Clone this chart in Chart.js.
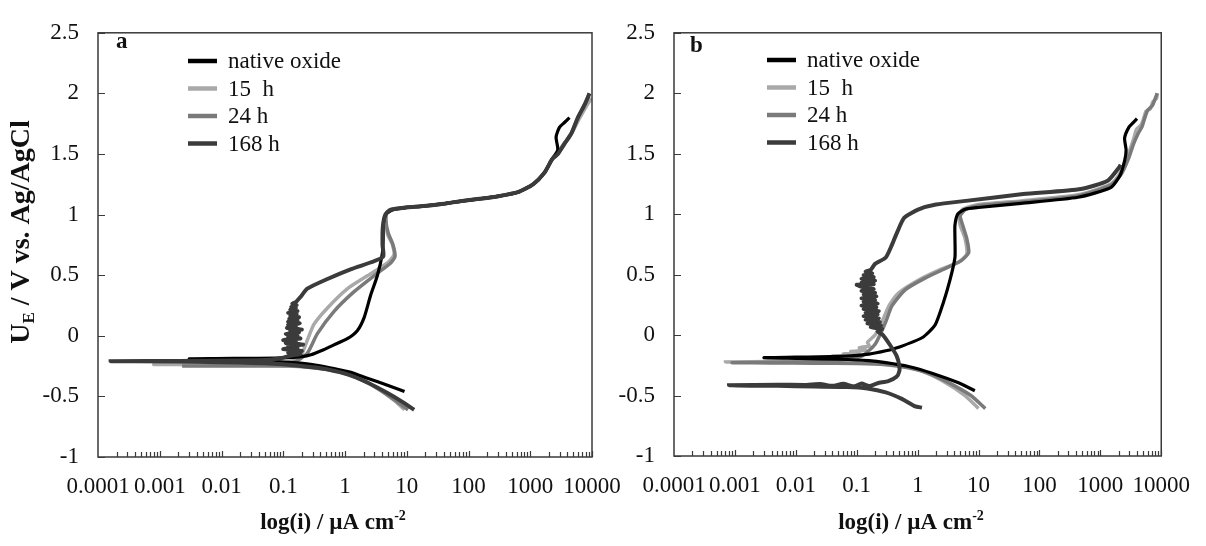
<!DOCTYPE html>
<html>
<head>
<meta charset="utf-8">
<script src="https://cdn.jsdelivr.net/npm/chart.js@4.4.1/dist/chart.umd.min.js"></script>
<style>
  body { margin: 0; background: #fff; }
  #wrap { position: relative; width: 1206px; height: 546px; }
  canvas { position: absolute; top: 0; }
  #chartA { left: 0; }
  #chartB { left: 560px; }
</style>
</head>
<body>
<div id="wrap">
  <canvas id="chartA" width="640" height="546"></canvas>
  <canvas id="chartB" width="646" height="546"></canvas>
</div>
<script>
// polarization curves, [current density µA/cm², potential V]
let seriesLabels = ["native oxide", "15  h", "24 h", "168 h"];

let xTickValues = [0.0001, 0.001, 0.01, 0.1, 1, 10, 100, 1000, 10000];
let xTickLabels = ["0.0001", "0.001", "0.01", "0.1", "1", "10", "100", "1000", "10000"];
let yTickValues = [-1, -0.5, 0, 0.5, 1, 1.5, 2, 2.5];
let yTickLabels = ["-1", "-0.5", "0", "0.5", "1", "1.5", "2", "2.5"];

// panel a
let aNative = [
  [9.2, -0.46], [5.0, -0.41], [2.3, -0.35], [1.2, -0.3], [0.66, -0.27], [0.35, -0.243],
  [0.19, -0.226], [0.08, -0.212], [0.02, -0.202], [0.006, -0.196], [0.003, -0.19], [0.008, -0.188],
  [0.03, -0.186], [0.1, -0.182], [0.2, -0.172], [0.28, -0.157], [0.45, -0.115], [0.65, -0.077],
  [1.09, -0.024], [1.58, 0.042], [2.04, 0.15], [2.6, 0.335], [3.34, 0.495], [4.03, 0.681],
  [4.15, 0.8], [4.17, 0.92], [4.57, 1.0], [5.9, 1.04], [10.3, 1.06], [17, 1.068], [40, 1.09],
  [73, 1.11], [150, 1.13], [305, 1.152], [630, 1.185], [1110, 1.25], [1700, 1.346], [2260, 1.457],
  [2790, 1.533], [2620, 1.64], [2970, 1.72], [3580, 1.76], [4320, 1.8]
];
let a15 = [
  [9.2, -0.61], [6.5, -0.54], [4.0, -0.46], [2.0, -0.37], [1.0, -0.305], [0.55, -0.275], [0.3, -0.258],
  [0.12, -0.245], [0.03, -0.24], [0.005, -0.238], [0.0008, -0.237], [0.004, -0.234], [0.02, -0.231],
  [0.07, -0.226], [0.13, -0.212], [0.19, -0.17], [0.245, -0.037], [0.315, 0.096], [0.52, 0.23],
  [1.1, 0.389], [2.3, 0.495], [4.87, 0.601], [6.2, 0.668], [5.9, 0.748], [4.87, 0.84], [4.57, 0.95],
  [4.75, 1.02], [6, 1.045], [10.3, 1.06], [17, 1.068], [40, 1.09], [73, 1.11], [150, 1.13],
  [305, 1.152], [630, 1.185], [1110, 1.25], [1700, 1.346], [2260, 1.457], [2900, 1.53], [3700, 1.6],
  [4800, 1.68], [6200, 1.79], [8000, 1.89], [9800, 1.96]
];
let a24 = [
  [10.5, -0.61], [7, -0.545], [4.2, -0.465], [2.1, -0.375], [1.0, -0.31], [0.55, -0.28], [0.3, -0.263],
  [0.12, -0.25], [0.03, -0.25], [0.008, -0.25], [0.0023, -0.25], [0.008, -0.247], [0.03, -0.243],
  [0.08, -0.236], [0.15, -0.218], [0.245, -0.144], [0.355, 0.016], [0.66, 0.2], [1.39, 0.362],
  [2.95, 0.495], [5.5, 0.601], [6.45, 0.655], [6.0, 0.75], [5.0, 0.85], [4.6, 0.95], [4.8, 1.02],
  [6.5, 1.045], [10.3, 1.06], [17, 1.068], [40, 1.09], [73, 1.11], [150, 1.13], [305, 1.152],
  [630, 1.185], [1110, 1.25], [1700, 1.346], [2260, 1.457], [2800, 1.5], [3540, 1.58], [4600, 1.667],
  [5900, 1.8], [7600, 1.907], [9100, 2.0]
];
let a168 = [
  [13.2, -0.61], [8.5, -0.545], [4.8, -0.47], [2.3, -0.385], [1.1, -0.318], [0.55, -0.28], [0.3, -0.26],
  [0.1, -0.235], [0.02, -0.22], [0.002, -0.212], [0.00016, -0.21], [0.002, -0.207], [0.02, -0.204],
  [0.06, -0.198], [0.09, -0.185], [0.13, -0.165],
  [0.19, -0.15], [0.12, -0.138], [0.2, -0.125], [0.1, -0.11], [0.17, -0.098], [0.12, -0.085],
  [0.21, -0.072], [0.11, -0.06], [0.16, -0.048], [0.1, -0.035], [0.19, -0.022], [0.12, -0.01],
  [0.17, 0.003], [0.11, 0.016], [0.18, 0.028], [0.13, 0.04], [0.2, 0.052], [0.115, 0.065],
  [0.16, 0.078], [0.12, 0.09], [0.185, 0.103], [0.12, 0.116], [0.17, 0.128], [0.125, 0.14],
  [0.18, 0.153], [0.13, 0.166], [0.165, 0.178], [0.12, 0.19], [0.17, 0.203], [0.13, 0.215],
  [0.16, 0.228], [0.135, 0.24], [0.165, 0.252], [0.14, 0.265], [0.16, 0.278], [0.19, 0.32],
  [0.245, 0.389], [0.52, 0.469], [1.23, 0.549], [2.95, 0.615], [4.17, 0.655], [4.05, 0.75],
  [4.1, 0.9], [4.5, 1.0], [5.5, 1.04], [10.3, 1.06], [17, 1.068], [40, 1.09], [73, 1.11], [150, 1.13],
  [305, 1.152], [630, 1.185], [1110, 1.25], [1700, 1.346], [2260, 1.457], [2800, 1.5], [3540, 1.58],
  [4600, 1.667], [5900, 1.8], [7600, 1.907], [9100, 2.0]
];

// panel b
let bNative = [
  [8.7, -0.46], [4.7, -0.395], [1.72, -0.315], [0.71, -0.26], [0.3, -0.228], [0.158, -0.212],
  [0.05, -0.2], [0.012, -0.193], [0.003, -0.187], [0.01, -0.183], [0.024, -0.18], [0.08, -0.172],
  [0.158, -0.158], [0.3, -0.13], [0.49, -0.1], [1.18, -0.022], [1.94, 0.084], [2.65, 0.27],
  [3.4, 0.456], [4.1, 0.642], [4.1, 0.8], [4.1, 0.908], [4.55, 1.0], [6, 1.04], [10, 1.055],
  [50, 1.09], [430, 1.14], [1480, 1.22], [2100, 1.32], [2500, 1.44], [2650, 1.53], [2500, 1.63],
  [2950, 1.72], [3500, 1.76], [4000, 1.79]
];
let b15 = [
  [10, -0.608], [6, -0.5], [2.5, -0.375], [1.2, -0.3], [0.6, -0.26], [0.3, -0.24], [0.1, -0.23],
  [0.02, -0.226], [0.004, -0.224], [0.0007, -0.222], [0.004, -0.218], [0.015, -0.21], [0.03, -0.2],
  [0.025, -0.19], [0.05, -0.185], [0.04, -0.172], [0.08, -0.168], [0.06, -0.155], [0.11, -0.15],
  [0.08, -0.135], [0.14, -0.125], [0.11, -0.105], [0.16, -0.09], [0.15, -0.06], [0.2, 0.0],
  [0.26, 0.11], [0.34, 0.243], [0.49, 0.35], [1.04, 0.456], [2.2, 0.536], [4.7, 0.602], [6.4, 0.668],
  [6.0, 0.8], [5.0, 0.908], [4.8, 0.987], [5.5, 1.04], [10, 1.08], [50, 1.11], [430, 1.16],
  [1480, 1.25], [2100, 1.34], [2700, 1.46], [3200, 1.56], [3600, 1.64], [3900, 1.7], [4700, 1.74],
  [5200, 1.8], [5600, 1.85], [6600, 1.87], [7300, 1.93], [8400, 1.96], [8600, 2.0]
];
let b24 = [
  [12.9, -0.608], [7.5, -0.5], [3.0, -0.385], [1.4, -0.31], [0.7, -0.27], [0.3, -0.245], [0.1, -0.236],
  [0.02, -0.232], [0.004, -0.23], [0.0009, -0.228], [0.005, -0.225], [0.02, -0.218], [0.06, -0.205],
  [0.12, -0.175], [0.2, -0.076], [0.3, 0.11], [0.38, 0.243], [0.63, 0.376], [1.3, 0.469], [2.8, 0.549],
  [5.2, 0.616], [6.9, 0.682], [6.4, 0.8], [5.5, 0.908], [5.0, 0.987], [6.2, 1.04], [10, 1.07],
  [50, 1.1], [430, 1.15], [1480, 1.24], [2200, 1.33], [2900, 1.46], [3500, 1.58], [4200, 1.67],
  [4800, 1.72], [5400, 1.8], [6000, 1.86], [7200, 1.9], [8000, 1.96], [8600, 2.0]
];
let b168 = [
  [1.18, -0.6], [0.91, -0.59], [0.55, -0.528], [0.3, -0.474], [0.15, -0.442], [0.07, -0.43],
  [0.02, -0.426], [0.005, -0.42], [0.0008, -0.415], [0.005, -0.41], [0.015, -0.412], [0.025, -0.405],
  [0.04, -0.42], [0.06, -0.403], [0.09, -0.424], [0.12, -0.401], [0.16, -0.422], [0.22, -0.398],
  [0.33, -0.38], [0.45, -0.345], [0.5, -0.3], [0.5, -0.25], [0.45, -0.17], [0.35, -0.08],
  [0.27, 0.0], [0.22, 0.03], [0.26, 0.05], [0.17, 0.065], [0.25, 0.08], [0.15, 0.095], [0.24, 0.11],
  [0.14, 0.125], [0.23, 0.14], [0.13, 0.155], [0.22, 0.17], [0.14, 0.185], [0.23, 0.2], [0.13, 0.215],
  [0.21, 0.23], [0.12, 0.245], [0.22, 0.26], [0.13, 0.275], [0.2, 0.29], [0.12, 0.305], [0.21, 0.32],
  [0.13, 0.335], [0.2, 0.35], [0.12, 0.365], [0.19, 0.38], [0.13, 0.395], [0.1, 0.416], [0.19, 0.42],
  [0.12, 0.435], [0.2, 0.45], [0.12, 0.465], [0.19, 0.48], [0.13, 0.495], [0.18, 0.51], [0.14, 0.525],
  [0.17, 0.54], [0.2, 0.589], [0.3, 0.642], [0.38, 0.748], [0.47, 0.86], [0.6, 0.97], [1.04, 1.04],
  [2, 1.08], [6.2, 1.11], [54, 1.166], [480, 1.208], [1320, 1.277], [2040, 1.388], [2150, 1.41]
];

let lineColors = ["#000000", "#a9a9a9", "#7a7a7a", "#3b3b3b"];
let lineWidths = [3.2, 3.5, 3.5, 4];
let drawOrder = [1, 3, 2, 0];

const serif = "'Liberation Serif', 'Times New Roman', serif";
const ink = "#111";

let richText = (ctx, parts, cx, baseY) => {
  let widths = parts.map((p) => {
    ctx.font = p.font;
    return ctx.measureText(p.text).width;
  });
  let px = cx - widths.reduce((a, b) => a + b, 0) / 2;
  parts.forEach((p, i) => {
    ctx.font = p.font;
    ctx.fillText(p.text, px, baseY + p.shift);
    px += widths[i];
  });
};

// frame, inner ticks, panel letter, legend and axis titles
let panelDecor = {
  id: "panelDecor",
  afterDraw(chart, args, opts) {
    let ctx = chart.ctx,
      area = chart.chartArea,
      xs = chart.scales.x,
      ys = chart.scales.y;
    ctx.save();
    ctx.strokeStyle = "#3a3a3a";
    ctx.lineWidth = 1.5;
    ctx.strokeRect(area.left, area.top, area.right - area.left, area.bottom - area.top);

    ctx.lineWidth = 1.2;
    ctx.beginPath();
    yTickValues.forEach((v) => {
      let py = Math.round(ys.getPixelForValue(v)) + 0.5;
      ctx.moveTo(area.left, py);
      ctx.lineTo(area.left + 7, py);
    });
    xTickValues.slice(0, -1).forEach((d) => {
      for (let k = 2; k <= 10; k++) {
        let px = Math.round(xs.getPixelForValue(d * k)) + 0.5;
        ctx.moveTo(px, area.bottom);
        ctx.lineTo(px, area.bottom - (k == 10 ? 6 : 5));
      }
    });
    ctx.stroke();

    ctx.fillStyle = ink;
    ctx.textAlign = "left";
    ctx.textBaseline = "alphabetic";
    ctx.font = "bold 23px " + serif;
    ctx.fillText(opts.letter, opts.letterX, opts.letterY);

    ctx.font = "23px " + serif;
    seriesLabels.forEach((label, i) => {
      let base = opts.legendY + i * 27.5;
      ctx.strokeStyle = lineColors[i];
      ctx.lineWidth = 4.5;
      ctx.beginPath();
      ctx.moveTo(opts.legendX, base - 7);
      ctx.lineTo(opts.legendX + 29, base - 7);
      ctx.stroke();
      ctx.fillText(label, opts.legendX + 40, base);
    });

    richText(ctx, [
      { text: "log(i) / µA cm", font: "bold 23px " + serif, shift: 0 },
      { text: "-2", font: "bold 14px " + serif, shift: -9 },
    ], opts.xTitleX, 529);

    if (opts.yTitle) {
      ctx.translate(29, 232);
      ctx.rotate(-Math.PI / 2);
      richText(ctx, [
        { text: "U", font: "bold 28px " + serif, shift: 0 },
        { text: "E", font: "bold 17px " + serif, shift: 5 },
        { text: " / V vs. Ag/AgCl", font: "bold 28px " + serif, shift: 0 },
      ], 0, 0);
    }
    ctx.restore();
  },
};

let makeDatasets = (series) =>
  series.map((pts, i) => ({
    label: seriesLabels[i],
    data: pts.map((p) => ({ x: p[0], y: p[1] })),
    showLine: true,
    borderColor: lineColors[i],
    borderWidth: lineWidths[i],
    pointRadius: 0,
    tension: 0.2,
    order: drawOrder[i],
  }));

let tickFont = { family: serif, size: 23 };

let makeOptions = (cfg) => ({
  responsive: false,
  animation: false,
  devicePixelRatio: 1,
  layout: { padding: { top: cfg.top, right: cfg.right, left: 0, bottom: 0 } },
  plugins: {
    legend: { display: false },
    tooltip: { enabled: false },
    panelDecor: cfg,
  },
  scales: {
    x: {
      type: "logarithmic",
      min: 0.0001,
      max: 10000,
      grid: { display: false, drawTicks: false },
      border: { display: false },
      afterBuildTicks: (s) => {
        s.ticks = xTickValues.map((v) => ({ value: v, major: true }));
      },
      afterFit: (s) => {
        s.height = cfg.xHeight;
      },
      ticks: {
        autoSkip: false,
        maxRotation: 0,
        minRotation: 0,
        padding: 16,
        color: ink,
        font: tickFont,
        callback: (v, i) => xTickLabels[i],
      },
    },
    y: {
      min: -1,
      max: 2.5,
      grid: { display: false, drawTicks: false },
      border: { display: false },
      afterBuildTicks: (s) => {
        s.ticks = yTickValues.map((v) => ({ value: v }));
      },
      afterFit: (s) => {
        s.width = cfg.yWidth;
      },
      ticks: {
        padding: 19,
        color: ink,
        font: tickFont,
        callback: (v, i) => yTickLabels[i],
      },
    },
  },
});

let createPanel = (id, series, cfg) => {
  new Chart(document.getElementById(id), {
    type: "scatter",
    data: { datasets: makeDatasets(series) },
    options: makeOptions(cfg),
    plugins: [panelDecor],
  });
};

createPanel("chartA", [aNative, a15, a24, a168], {
  top: 19, right: 48, yWidth: 98, xHeight: 89,
  letter: "a", letterX: 116, letterY: 48,
  legendX: 188, legendY: 68, xTitleX: 333, yTitle: true,
});

createPanel("chartB", [bNative, b15, b24, b168], {
  top: 17, right: 42, yWidth: 114, xHeight: 90,
  letter: "b", letterX: 130, letterY: 52,
  legendX: 207, legendY: 67, xTitleX: 351, yTitle: false,
});
</script>
</body>
</html>
